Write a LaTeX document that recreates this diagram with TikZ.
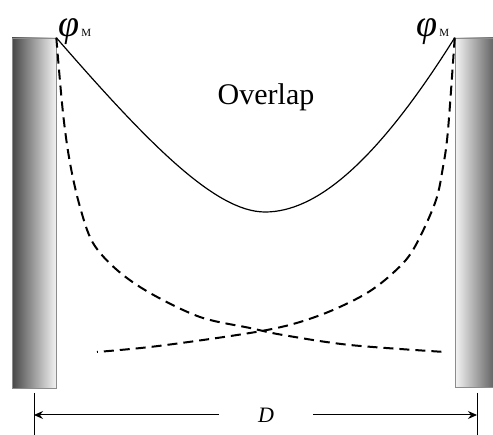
\documentclass[tikz,border=0pt]{standalone}
\usepackage{fontspec}
\setmainfont{Liberation Serif}
\usetikzlibrary{arrows.meta}
\begin{document}
\begin{tikzpicture}[x=1pt,y=-1pt,
  plate/.style={draw=black!45, line width=0.6pt, rectangle, inner sep=0pt},
  solidcurve/.style={line width=1.2pt, line join=round},
  dashcurve/.style={line width=2pt, dash pattern=on 10pt off 6pt},
  dimline/.style={line width=1pt},
  dimarrow/.style={line width=1pt, -{Stealth[length=9pt,width=8pt,inset=3pt]}},
  lbl/.style={inner sep=0pt, font=\fontsize{30}{36}\selectfont},
  phi/.style={inner sep=0pt, anchor=base west, font=\fontsize{38}{44}\selectfont\itshape},
  sub/.style={inner sep=0pt, anchor=base west, font=\fontsize{11}{13}\selectfont}
]
\useasboundingbox (0,0) rectangle (493,435);
% plates
\node[plate, minimum width=44pt, minimum height=350pt, left color=black!72, right color=black!5] (lp) at (34,213) {};
\node[plate, minimum width=38pt, minimum height=349pt, left color=black!4, right color=black!60] (rp) at (474,212.5) {};
% solid curve
\coordinate (bottom) at (265,212);
\draw[solidcurve] (lp.north east) .. controls (147,142) and (215,212) .. (bottom)
   .. controls (315,212) and (375,165) .. (rp.north west);
% left dashed curve
\draw[dashcurve] plot[smooth, tension=0.55] coordinates {(lp.north east) (63,113) (70,163) (80,207) (93,243) (117,270) (150,293) (200,317) (250,328) (283,335) (350,345) (445,352)};
% right dashed curve
\draw[dashcurve] plot[smooth, tension=0.55] coordinates {(rp.north west) (448,130) (443,167) (435,203) (413,250) (393,273) (367,293) (333,310) (300,322) (267,330) (217,338) (150,347) (97,352)};
% labels
\node[lbl, anchor=base] (ov) at (266,105) {Overlap};
\node[phi] (phl) at (58,37) {φ};
\node[sub] (ml) at (phl.base east) {\,M};
\node[phi] (phr) at (416,37) {φ};
\node[sub] (mr) at (phr.base east) {\,M};
% dimension
\coordinate (tlt) at (34,393);
\coordinate (tlb) at (34,435);
\coordinate (trt) at (477,393);
\coordinate (trb) at (477,435);
\draw[dimline] (tlt) -- (tlb);
\draw[dimline] (trt) -- (trb);
\node[inner sep=0pt, minimum width=94pt, anchor=base, font=\fontsize{22}{26}\selectfont\itshape] (D) at (266,423) {D};
\coordinate (dy) at (266,415);
\draw[dimarrow] (D.west |- dy) -- (tlt |- dy);
\draw[dimarrow] (D.east |- dy) -- (trt |- dy);
\end{tikzpicture}
\end{document}
